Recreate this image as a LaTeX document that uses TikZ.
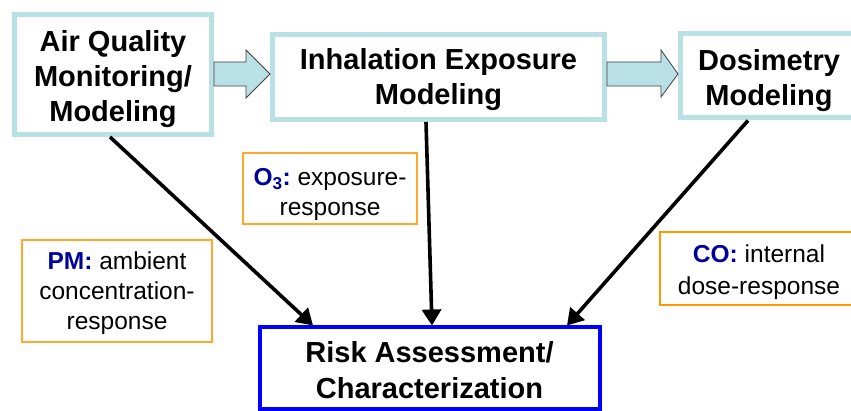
\documentclass[tikz,border=0pt]{standalone}
\usepackage{fontspec}
\setmainfont{Liberation Sans}
\usetikzlibrary{arrows.meta,calc}
\definecolor{boxblue}{RGB}{185,224,228}
\definecolor{riskblue}{RGB}{0,0,255}
\definecolor{lblorange}{RGB}{255,168,45}
\definecolor{coorange}{RGB}{255,153,0}
\definecolor{keyblue}{RGB}{0,0,153}
\definecolor{arrfill}{RGB}{185,224,228}
\newcommand{\topstrut}[1]{\rule{0pt}{#1}}
\begin{document}
\begin{tikzpicture}[x=1pt,y=-1pt,
  modbox/.style={draw=boxblue, line width=5pt, fill=white, align=center, inner sep=0pt,
    font=\fontsize{29}{35}\selectfont\bfseries},
  riskbox/.style={draw=riskblue, line width=4pt, fill=white, align=center, inner sep=0pt,
    font=\fontsize{29}{36}\selectfont\bfseries},
  lbl/.style={draw=lblorange, line width=1.3pt, fill=white, align=center, inner sep=0pt,
    font=\fontsize{24.5}{30}\selectfont},
  colbl/.style={lbl, draw=coorange, line width=2.8pt, font=\fontsize{24.5}{32}\selectfont},
  link/.style={draw=black, line width=3.6pt, -{Triangle[length=16pt,width=19pt]}},
  blockarr/.style={draw=black!75, line width=0.8pt, fill=arrfill, line join=miter}]
\useasboundingbox (0,0) rectangle (851,411);
\clip (0,0) rectangle (851,411);
% process boxes
\node[modbox, minimum width=197pt, minimum height=120pt] (A) at (113,74.5)
  {\topstrut{31pt}Air Quality\\Monitoring/\\Modeling};
\node[modbox, minimum width=332pt, minimum height=85pt] (B) at (438.5,77)
  {\topstrut{27pt}Inhalation Exposure\\Modeling};
\node[modbox, minimum width=177pt, minimum height=84pt] (C) at (769,76)
  {\topstrut{31pt}Dosimetry\\Modeling};
\node[riskbox, minimum width=340pt, minimum height=81pt] (D) at (429.5,368)
  {\topstrut{25pt}Risk Assessment/\\Characterization};
% labels
\node[lbl, minimum width=190pt, minimum height=102pt] (pm) at (117,291)
  {\topstrut{22pt}{\color{keyblue}\bfseries PM:} ambient\\concentration-\\response};
\node[lbl, minimum width=174pt, minimum height=71pt] (o3) at (330,188.5)
  {\topstrut{30pt}{\color{keyblue}\bfseries O\textsubscript{3}:}\ exposure-\\response};
\node[colbl, minimum width=198pt, minimum height=73pt] (co) at (759,268.5)
  {\topstrut{26pt}{\color{keyblue}\bfseries CO:} internal\\dose-response};
% block arrows
\draw[blockarr] (A.east |- 0,62) -- ($(B.west |- 0,62)+(-24,0)$) -- ($(B.west |- 0,50)+(-24,0)$)
  -- (B.west |- 0,74) -- ($(B.west |- 0,98)+(-24,0)$) -- ($(B.west |- 0,86)+(-24,0)$)
  -- (A.east |- 0,86) -- cycle;
\draw[blockarr] (B.east |- 0,62) -- ($(C.west |- 0,62)+(-17,0)$) -- ($(C.west |- 0,50)+(-17,0)$)
  -- (C.west |- 0,74) -- ($(C.west |- 0,97)+(-17,0)$) -- ($(C.west |- 0,86)+(-17,0)$)
  -- (B.east |- 0,86) -- cycle;
% connectors
\draw[link] ([xshift=-3pt]A.south) -- ([xshift=-116.5pt]D.north);
\draw[link] ([xshift=-12.5pt]B.south) -- ([xshift=2.5pt]D.north);
\draw[link] ([xshift=-21pt]C.south) -- ([xshift=137.5pt]D.north);
\end{tikzpicture}
\end{document}
